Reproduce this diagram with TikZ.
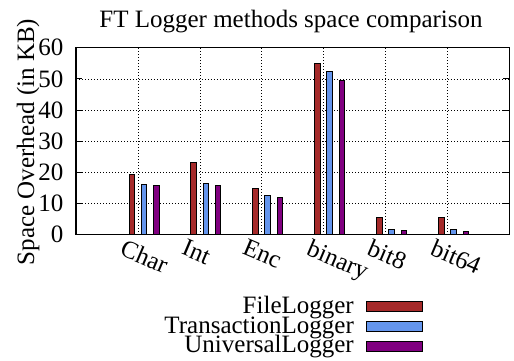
\documentclass[tikz,border=0pt]{standalone}
\usepackage{fontspec}
\setmainfont{Liberation Serif}
\usepackage{tikz}
\definecolor{filered}{HTML}{A52A2A}
\definecolor{transblue}{HTML}{6495ED}
\definecolor{univpurple}{HTML}{800080}

\begin{document}
\begin{tikzpicture}[every node/.style={font=\fontsize{25pt}{28pt}\selectfont, inner sep=0pt},
  gridline/.style={line width=.6pt, dash pattern=on .9pt off 2.1pt},
  fbar/.style={draw=black, line width=.9pt, fill=filered},
  tbar/.style={draw=black, line width=.9pt, fill=transblue},
  ubar/.style={draw=black, line width=.9pt, fill=univpurple}]
 \useasboundingbox (0,0) rectangle (514pt,360pt);
 \node[anchor=base] (title) at (291pt,333pt) {FT Logger methods space comparison};
 \node[rotate=90, anchor=base] (ylabel) at (34pt,218pt) {Space Overhead (in KB)};
 \begin{scope}[shift={(76pt,125.5pt)}, x=61.93pt, y=3.112pt]
  % grid
  \draw[gridline] (0,10) -- (7,10) (0,20) -- (7,20) (0,30) -- (7,30)
   (0,40) -- (7,40) (0,50) -- (7,50);
  \draw[gridline] (1,0) -- (1,60) (2,0) -- (2,60) (3,0) -- (3,60)
   (4,0) -- (4,60) (5,0) -- (5,60) (6,0) -- (6,60);
  % bars
  \draw[fbar] (0.855,0) rectangle (0.945,19.4);
  \draw[tbar] (1.05,0) rectangle (1.14,16.2);
  \draw[ubar] (1.25,0) rectangle (1.34,15.7);
  \draw[fbar] (1.855,0) rectangle (1.945,23);
  \draw[tbar] (2.05,0) rectangle (2.14,16.5);
  \draw[ubar] (2.25,0) rectangle (2.34,15.7);
  \draw[fbar] (2.855,0) rectangle (2.945,14.9);
  \draw[tbar] (3.05,0) rectangle (3.14,12.7);
  \draw[ubar] (3.25,0) rectangle (3.34,11.9);
  \draw[fbar] (3.855,0) rectangle (3.945,55);
  \draw[tbar] (4.05,0) rectangle (4.14,52.4);
  \draw[ubar] (4.25,0) rectangle (4.34,49.5);
  \draw[fbar] (4.855,0) rectangle (4.945,5.4);
  \draw[tbar] (5.05,0) rectangle (5.14,1.6);
  \draw[ubar] (5.25,0) rectangle (5.34,1.2);
  \draw[fbar] (5.855,0) rectangle (5.945,5.4);
  \draw[tbar] (6.05,0) rectangle (6.14,1.6);
  \draw[ubar] (6.25,0) rectangle (6.34,1.0);
  % frame and ticks
  \draw[line width=1.4pt] (0,0) rectangle (7,60);
  \draw[line width=1pt] (0,10) -- (.1,10) (0,20) -- (.1,20) (0,30) -- (.1,30)
   (0,40) -- (.1,40) (0,50) -- (.1,50);
  \draw[line width=1pt] (7,10) -- (6.9,10) (7,20) -- (6.9,20) (7,30) -- (6.9,30)
   (7,40) -- (6.9,40) (7,50) -- (6.9,50);
  \node[anchor=east] (y0) at (-.2,0) {0};
  \node[anchor=east] (y10) at (-.2,10) {10};
  \node[anchor=east] (y20) at (-.2,20) {20};
  \node[anchor=east] (y30) at (-.2,30) {30};
  \node[anchor=east] (y40) at (-.2,40) {40};
  \node[anchor=east] (y50) at (-.2,50) {50};
  \node[anchor=east] (y60) at (-.2,60) {60};
  \node[rotate=-23, anchor=north west] (lchar) at (.8,-1.3) {Char};
  \node[rotate=-23, anchor=north west] (lint) at (1.79,-1.3) {Int};
  \node[rotate=-23, anchor=north west] (lenc) at (2.77,-1.3) {Enc};
  \node[rotate=-23, anchor=north west] (lbinary) at (3.81,-1.3) {binary};
  \node[rotate=-23, anchor=north west] (lbit8) at (4.79,-1.3) {bit8};
  \node[rotate=-23, anchor=north west] (lbit64) at (5.81,-1.3) {bit64};
 \end{scope}
 % legend
 \node[anchor=base east] (kfile) at (354pt,47pt) {FileLogger};
 \node[anchor=base east] (ktrans) at (354pt,27pt) {TransactionLogger};
 \node[anchor=base east] (kuniv) at (354pt,7.5pt) {UniversalLogger};
 \draw[fbar] (366pt,48.3pt) rectangle (422pt,58.3pt);
 \draw[tbar] (366pt,28.3pt) rectangle (422pt,38.3pt);
 \draw[ubar] (366pt,9pt) rectangle (422pt,19pt);
\end{tikzpicture}
\end{document}
